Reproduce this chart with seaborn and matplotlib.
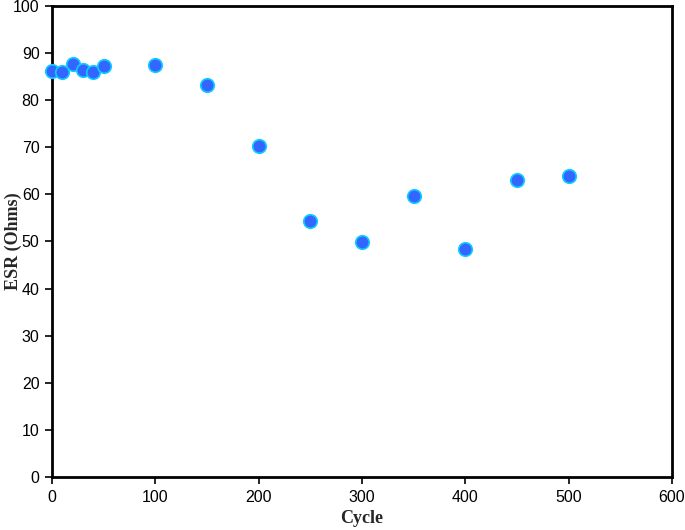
import matplotlib
matplotlib.use('Agg')
from matplotlib import pyplot as plt
import pandas as pd
import seaborn as sns

# cycle number vs ESR
cycles = [0, 10, 20, 30, 40, 50, 100, 150, 200, 250, 300, 350, 400, 450, 500]
esr = [86.1, 86.0, 87.7, 86.4, 86.0, 87.2, 87.4, 83.2, 70.3, 54.4, 49.9, 59.6, 48.4, 63.0, 63.9]

df = pd.DataFrame({'Cycle': cycles, 'ESR': esr})

sns.set_style('ticks')
plt.rcParams['font.family'] = ['Liberation Sans', 'DejaVu Sans']

fig = plt.figure(figsize=(6.85, 5.3), dpi=100)
ax = fig.add_axes([0.076, 0.100, 0.905, 0.889])

sns.scatterplot(data=df, x='Cycle', y='ESR', ax=ax, s=95, clip_on=False,
                color='#3366ff', edgecolor='#11ccff', linewidth=1.2, zorder=3)

ax.set_xlim(0, 600)
ax.set_ylim(0, 100)
ax.set_xticks(range(0, 601, 100))
ax.set_yticks(range(0, 101, 10))
ax.tick_params(axis='both', direction='out', length=5, width=1.2, labelsize=11.5,
               colors='black', pad=4)
for sp in ax.spines.values():
    sp.set_linewidth(2)
    sp.set_color('black')

serif = ['Liberation Serif', 'DejaVu Serif']
ax.set_xlabel('Cycle', fontsize=13, fontweight='bold', family=serif)
ax.set_ylabel('ESR (Ohms)', fontsize=13, fontweight='bold', family=serif)
ax.xaxis.set_label_coords(0.5, -0.07)
ax.yaxis.set_label_coords(-0.048, 0.5)

fig.savefig('out.png', dpi=100)
